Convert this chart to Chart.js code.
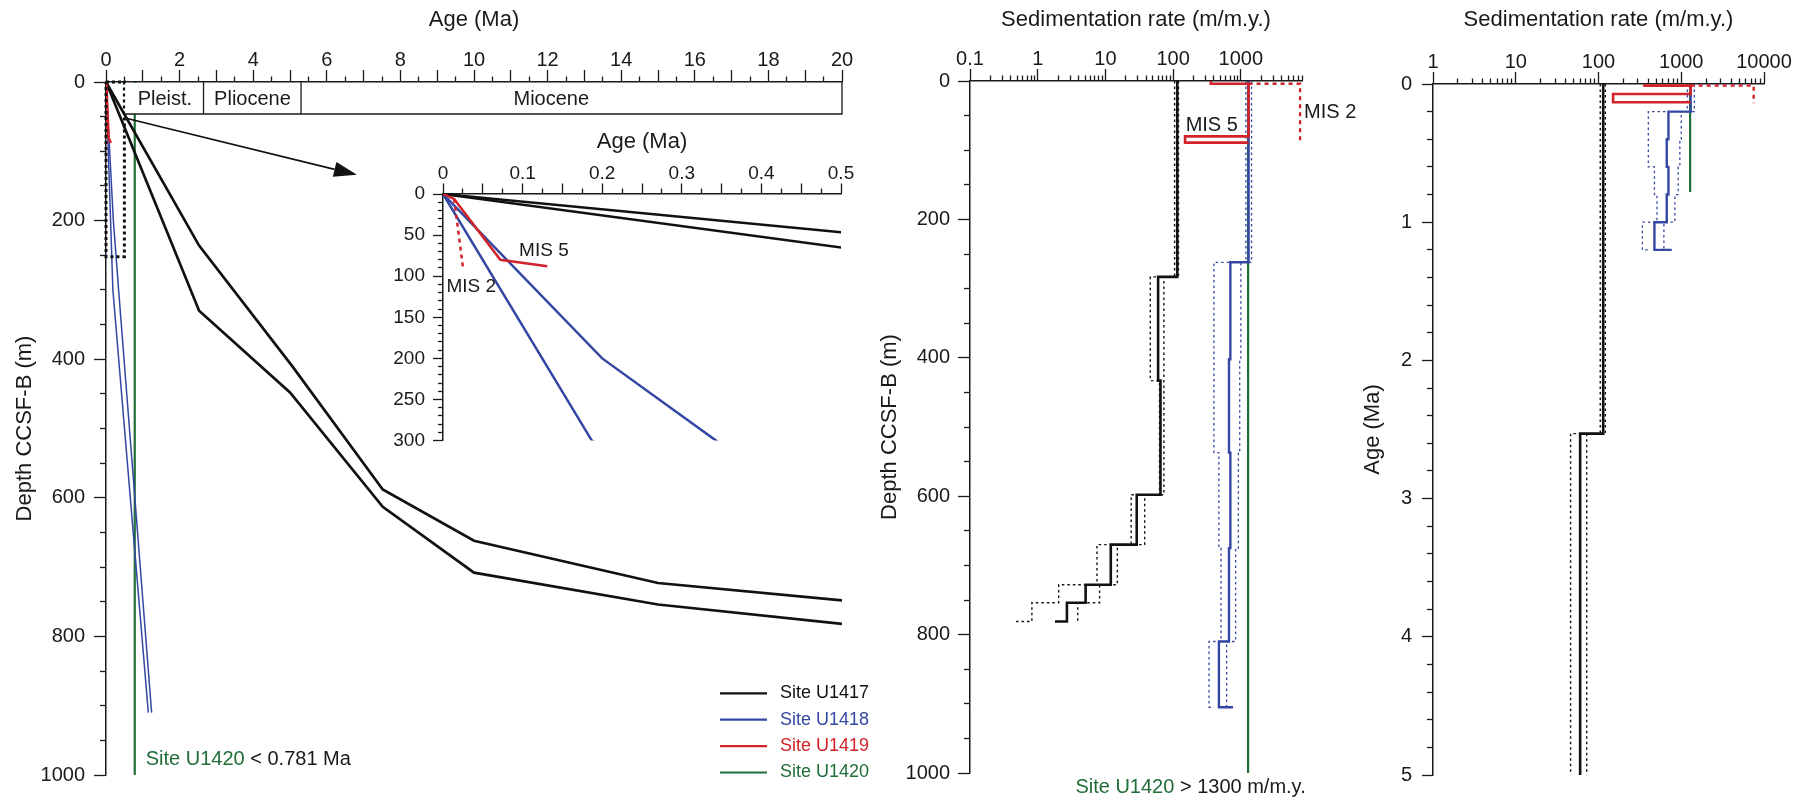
<!DOCTYPE html>
<html>
<head>
<meta charset="utf-8">
<script src="https://cdn.jsdelivr.net/npm/chart.js@4.4.1/dist/chart.umd.min.js"></script>
<style>
  html, body { margin: 0; padding: 0; background: #ffffff; width: 1814px; height: 810px; overflow: hidden; }
  canvas { position: absolute; pointer-events: none; }
</style>
</head>
<body>
<canvas id="cMain" width="880" height="810" style="left:0px;top:0px"></canvas>
<canvas id="cInset" width="480" height="340" style="left:380px;top:120px"></canvas>
<canvas id="cDepth" width="520" height="810" style="left:860px;top:0px"></canvas>
<canvas id="cAge" width="454" height="810" style="left:1360px;top:0px"></canvas>
<script>
// ================= DATA =================
const siteNames  = ['Site U1417', 'Site U1418', 'Site U1419', 'Site U1420'];
const siteColors = ['#111111', '#3448a3', '#d2232a', '#1f6e37'];

// --- Age (Ma) vs depth (m), left panel ---
const u1417AgeA   = [0, 2.53, 5.06, 7.52, 10, 15, 20];
const u1417DepthA = [0, 236, 410, 588, 662, 723, 748];
const u1417AgeB   = [0, 2.53, 5.0, 7.52, 10, 15, 20];
const u1417DepthB = [0, 330, 448, 613, 708, 754, 782];
const u1418AgeA   = [0, 0.187, 1.15];
const u1418DepthA = [0, 300, 910];
const u1418AgeB   = [0, 0.2, 0.343, 1.24];
const u1418DepthB = [0, 200, 300, 910];
const u1419Age    = [0, 0.014, 0.072, 0.131];
const u1419Depth  = [0, 6, 80, 88];
const u1419Mis2Age   = [0.014, 0.025];
const u1419Mis2Depth = [6, 89];
const u1420Age    = [0.781, 0.781];
const u1420Depth  = [0, 1000];

// epochs bar
const epochNames    = ['Pleist.', 'Pliocene', 'Miocene'];
const epochBounds   = [0.52, 2.65, 5.3, 20];
const epochLabelAge = [1.6, 3.98, 12.1];

// zoom box and arrow (data units of left panel)
const zoomBoxAge   = [0, 0.5];
const zoomBoxDepth = [0, 252];
const arrowAge     = [0.52, 6.82];
const arrowDepth   = [52, 134];

// tick labels
const mainAgeTickLabels    = [0, 2, 4, 6, 8, 10, 12, 14, 16, 18, 20];
const depthTickLabels      = [0, 200, 400, 600, 800, 1000];
const insetAgeTickLabels   = [0, 0.1, 0.2, 0.3, 0.4, 0.5];
const insetDepthTickLabels = [0, 50, 100, 150, 200, 250, 300];
const rateTickLabelsDepth  = [0.1, 1, 10, 100, 1000];
const rateTickLabelsAge    = [1, 10, 100, 1000, 10000];
const ageTickLabelsRate    = [0, 1, 2, 3, 4, 5];

// --- Sedimentation rate (m/m.y.) vs depth ---
const u1417RateTopDepth = [0, 283, 433, 598, 670, 728, 754, 781];
const u1417Rate     = [115, 60, 65, 29, 12, 5.1, 2.7, 1.8];
const u1417RateLow  = [105, 46, 63, 24, 7.5, 2.04, 0.82, 0.48];
const u1417RateHigh = [120, 73, 73, 38, 15, 8.2, 3.9, 3.9];
const u1418RateTopDepth = [0, 262, 402, 537, 675, 810, 905];
const u1418Rate     = [1300, 700, 668, 700, 668, 474, 767];
const u1418RateLow  = [1186, 400, 400, 474, 509, 339, 400];
const u1418RateHigh = [1439, 1000, 962, 918, 837, 617, 617];
const u1419RateTopDepth = [0, 4, 80, 89];
const u1419Rate     = [360, 1300, 150, 1300];
const mis2Rate      = [1300, 7500, 7500];
const mis2RateDepth = [4, 4, 89];
const u1420Rate      = [1280, 1280];
const u1420RateDepth = [0, 1000];

// --- Sedimentation rate vs age ---
const u1417RateTopAge     = [0, 2.53, 5.0];
const u1417RateByAge      = [114, 60, 60];
const u1417RateByAgeLow   = [105, 46, 46];
const u1417RateByAgeHigh  = [121, 72, 72];
const u1418RateTopAge     = [0, 0.2, 0.4, 0.6, 0.8, 1.0, 1.2];
const u1419RateTopAge     = [0, 0.012, 0.072, 0.132];
const mis2RateAge         = [0.012, 0.012, 0.14];
const u1420RateAge        = [0, 0.781];

// ================= STYLE HELPERS =================
const FONT = "'Liberation Sans', Arial, Helvetica, sans-serif";
const TXT = '#1a1a1a';
const AX = '#1a1a1a';
const [BLK, BLU, RED, GRN] = siteColors;

function pts(xs, ys) { return xs.map((x, i) => ({ x: x, y: ys[i] })); }
function ds(xs, ys, color, width, dash, stepped, extra) {
  return Object.assign({
    data: pts(xs, ys), borderColor: color, backgroundColor: color, borderWidth: width,
    borderDash: dash || [], showLine: true, pointRadius: 0, pointHoverRadius: 0,
    fill: false, tension: 0, stepped: stepped || false
  }, extra || {});
}
function linTicks(min, max, step) {
  const t = []; const n = Math.round((max - min) / step);
  for (let i = 0; i <= n; i++) t.push({ value: +(min + i * step).toFixed(6) });
  return t;
}
function logTicks(min, max) {
  const t = [];
  for (let e = Math.floor(Math.log10(min)); e <= Math.ceil(Math.log10(max)); e++) {
    const b = Math.pow(10, e);
    for (let m = 1; m < 10; m++) {
      const v = m * b;
      if (v >= min * (1 - 1e-9) && v <= max * (1 + 1e-9)) t.push({ value: v });
    }
  }
  return t;
}
function axis(o) {
  const isLog = o.type === 'logarithmic';
  const isMajor = isLog
    ? v => Math.abs(Math.log10(v) - Math.round(Math.log10(v))) < 1e-6
    : v => Math.abs(v / o.majorStep - Math.round(v / o.majorStep)) < 1e-6;
  const matchLabel = isLog
    ? v => o.labels.find(l => Math.abs(Math.log10(l) - Math.log10(v)) < 1e-6)
    : v => o.labels.find(l => Math.abs(l - v) < 1e-6);
  const horiz = o.pos === 'top' || o.pos === 'bottom';
  return {
    type: o.type || 'linear', position: o.pos, min: o.min, max: o.max, reverse: !!o.reverse,
    afterBuildTicks: s => { s.ticks = isLog ? logTicks(o.min, o.max) : linTicks(o.min, o.max, o.step); },
    afterFit: s => { if (horiz) s.height = o.size; else s.width = o.size; },
    ticks: {
      autoSkip: false, maxRotation: 0, minRotation: 0, padding: o.labelPad, color: TXT,
      font: { family: FONT, size: o.fontSize || 20 },
      callback: v => { const l = matchLabel(v); return l === undefined ? '' : String(l); }
    },
    grid: {
      drawOnChartArea: false, drawTicks: true, tickLength: o.majorLen, tickColor: AX, tickWidth: 1.3,
      tickBorderDash: ctx => (!ctx.tick || isMajor(ctx.tick.value)) ? [] : [o.minorLen, o.majorLen - o.minorLen],
      tickBorderDashOffset: ctx => (!ctx.tick || isMajor(ctx.tick.value)) ? 0 : o.minorLen
    },
    border: { display: true, color: AX, width: 1.5 },
    title: o.title ? { display: true, text: o.title, color: TXT, font: { family: FONT, size: 22 },
      padding: { top: o.titlePad, bottom: 0 } } : { display: false }
  };
}
function baseOptions(padding, scales) {
  return {
    responsive: false, devicePixelRatio: 1, animation: false, events: [],
    layout: { padding: padding },
    plugins: { legend: { display: false }, tooltip: { enabled: false } },
    scales: scales
  };
}
function P(chart, x, y) { return [chart.scales.x.getPixelForValue(x), chart.scales.y.getPixelForValue(y)]; }
function text(ctx, s, x, y, color, size, align) {
  ctx.save(); ctx.font = size + 'px ' + FONT; ctx.fillStyle = color;
  ctx.textAlign = align || 'left'; ctx.textBaseline = 'middle'; ctx.fillText(s, x, y); ctx.restore();
}

// ================= LEFT PANEL: age vs depth =================
const mainPlugin = {
  id: 'mainDecor',
  afterDatasetsDraw(chart) {
    const ctx = chart.ctx, ca = chart.chartArea, sx = chart.scales.x;
    const top = ca.top, h = 32;
    const x0 = sx.getPixelForValue(epochBounds[0]), x1 = sx.getPixelForValue(epochBounds[epochBounds.length - 1]);
    ctx.save();
    ctx.fillStyle = '#ffffff'; ctx.fillRect(x0, top + 1, x1 - x0, h - 1);
    ctx.strokeStyle = AX; ctx.lineWidth = 1.3;
    ctx.beginPath();
    ctx.moveTo(x0, top + h); ctx.lineTo(x1, top + h); ctx.lineTo(x1, top);
    for (let i = 1; i < epochBounds.length - 1; i++) {
      const xb = sx.getPixelForValue(epochBounds[i]); ctx.moveTo(xb, top); ctx.lineTo(xb, top + h);
    }
    ctx.stroke(); ctx.restore();
    epochNames.forEach((n, i) => text(ctx, n, sx.getPixelForValue(epochLabelAge[i]), top + h / 2 + 1, TXT, 20, 'center'));
    const [ax1, ay1] = P(chart, arrowAge[0], arrowDepth[0]);
    const [ax2, ay2] = P(chart, arrowAge[1], arrowDepth[1]);
    const a = Math.atan2(ay2 - ay1, ax2 - ax1), L = 23, W = 7.5, c = Math.cos(a), s = Math.sin(a);
    ctx.save(); ctx.strokeStyle = BLK; ctx.fillStyle = BLK; ctx.lineWidth = 1.6;
    ctx.beginPath(); ctx.moveTo(ax1, ay1); ctx.lineTo(ax2 - L * c, ay2 - L * s); ctx.stroke();
    ctx.beginPath(); ctx.moveTo(ax2, ay2);
    ctx.lineTo(ax2 - L * c + W * s, ay2 - L * s - W * c);
    ctx.lineTo(ax2 - L * c - W * s, ay2 - L * s + W * c);
    ctx.closePath(); ctx.fill(); ctx.restore();
  },
  afterDraw(chart) {
    const ctx = chart.ctx, ca = chart.chartArea;
    const [tx, ty] = P(chart, 1.08, 978);
    ctx.save(); ctx.font = '20px ' + FONT;
    const w = ctx.measureText('Site U1420').width; ctx.restore();
    text(ctx, 'Site U1420', tx, ty, GRN, 20);
    text(ctx, ' < 0.781 Ma', tx + w, ty, TXT, 20);
    siteNames.forEach((n, i) => {
      const y = ca.bottom - 81.7 + i * 26.4;
      ctx.save(); ctx.strokeStyle = siteColors[i]; ctx.lineWidth = 2.2;
      ctx.beginPath(); ctx.moveTo(ca.right - 122, y); ctx.lineTo(ca.right - 75, y); ctx.stroke(); ctx.restore();
      text(ctx, n, ca.right - 62, y, siteColors[i], 18);
    });
  }
};

new Chart(document.getElementById('cMain'), {
  type: 'scatter',
  data: { datasets: [
    ds([zoomBoxAge[0], zoomBoxAge[1], zoomBoxAge[1], zoomBoxAge[0], zoomBoxAge[0]],
       [zoomBoxDepth[0], zoomBoxDepth[0], zoomBoxDepth[1], zoomBoxDepth[1], zoomBoxDepth[0]],
       BLK, 3, [3, 3], false, { clip: false }),
    ds(u1419Age, u1419Depth, RED, 2.5),
    ds(u1419Mis2Age, u1419Mis2Depth, RED, 2.5, [4, 4]),
    ds(u1417AgeA, u1417DepthA, BLK, 2.7),
    ds(u1417AgeB, u1417DepthB, BLK, 2.7),
    ds(u1418AgeA, u1418DepthA, BLU, 1.5),
    ds(u1418AgeB, u1418DepthB, BLU, 1.5),
    ds(u1420Age, u1420Depth, GRN, 2.2)
  ] },
  options: baseOptions({ left: 0, top: 0, right: 38, bottom: 35 }, {
    x: axis({ pos: 'top', min: 0, max: 20, step: 0.5, majorStep: 1, labels: mainAgeTickLabels,
      majorLen: 12, minorLen: 5.5, labelPad: -2, size: 82, title: 'Age (Ma)', titlePad: 7 }),
    y: axis({ pos: 'left', min: 0, max: 1000, step: 50, majorStep: 200, labels: depthTickLabels, reverse: true,
      majorLen: 12, minorLen: 6, labelPad: 9, size: 106, title: 'Depth CCSF-B (m)', titlePad: 12 })
  }),
  plugins: [mainPlugin]
});

// ================= INSET =================
const insetPlugin = {
  id: 'insetDecor',
  afterDraw(chart) {
    const ctx = chart.ctx;
    const [m5x, m5y] = P(chart, 0.0956, 68.7);
    text(ctx, 'MIS 5', m5x, m5y, TXT, 19);
    const [m2x, m2y] = P(chart, 0.0043, 113);
    text(ctx, 'MIS 2', m2x, m2y, TXT, 19);
  }
};
new Chart(document.getElementById('cInset'), {
  type: 'scatter',
  data: { datasets: [
    ds(u1419Age, u1419Depth, RED, 2.5),
    ds(u1419Mis2Age, u1419Mis2Depth, RED, 2.5, [4, 4]),
    ds(u1417AgeA, u1417DepthA, BLK, 2.5),
    ds(u1417AgeB, u1417DepthB, BLK, 2.5),
    ds(u1418AgeA, u1418DepthA, BLU, 2.5),
    ds(u1418AgeB, u1418DepthB, BLU, 2.5)
  ] },
  options: baseOptions({ left: 0, top: 0, right: 19, bottom: 14 }, {
    x: axis({ pos: 'top', min: 0, max: 0.5, step: 0.025, majorStep: 0.05, labels: insetAgeTickLabels,
      majorLen: 10.5, minorLen: 5.5, labelPad: -2, size: 74, fontSize: 19, title: 'Age (Ma)', titlePad: 9 }),
    y: axis({ pos: 'left', min: 0, max: 300, step: 10, majorStep: 50, labels: insetDepthTickLabels, reverse: true,
      majorLen: 10, minorLen: 5, labelPad: 8, size: 63, fontSize: 19 })
  }),
  plugins: [insetPlugin]
});

// ================= MIDDLE: rate vs depth =================
const depthPlugin = {
  id: 'depthDecor',
  afterDraw(chart) {
    const ctx = chart.ctx;
    const [m5x, m5y] = P(chart, 153, 64.6);
    text(ctx, 'MIS 5', m5x, m5y, TXT, 20);
    const [m2x, m2y] = P(chart, mis2Rate[1], 46);
    text(ctx, 'MIS 2', m2x + 4, m2y, TXT, 20);
    const [bx, by] = P(chart, 3.6, 1021);
    ctx.save(); ctx.font = '20px ' + FONT;
    const w = ctx.measureText('Site U1420').width; ctx.restore();
    text(ctx, 'Site U1420', bx, by, GRN, 20);
    text(ctx, ' > 1300 m/m.y.', bx + w, by, TXT, 20);
  }
};
new Chart(document.getElementById('cDepth'), {
  type: 'scatter',
  data: { datasets: [
    ds(u1419Rate, u1419RateTopDepth, RED, 2.6, [], 'after'),
    ds(mis2Rate, mis2RateDepth, RED, 2.4, [4, 4]),
    ds(u1417Rate, u1417RateTopDepth, BLK, 2.6, [], 'after'),
    ds(u1417RateLow, u1417RateTopDepth, BLK, 1.4, [2.5, 3], 'after'),
    ds(u1417RateHigh, u1417RateTopDepth, BLK, 1.4, [2.5, 3], 'after'),
    ds(u1418Rate, u1418RateTopDepth, BLU, 2.4, [], 'after'),
    ds(u1418RateLow, u1418RateTopDepth, BLU, 1.3, [2.5, 3], 'after'),
    ds(u1418RateHigh, u1418RateTopDepth, BLU, 1.3, [2.5, 3], 'after'),
    ds(u1420Rate, u1420RateDepth, GRN, 2.2)
  ] },
  options: baseOptions({ left: 0, top: 0, right: 78, bottom: 37 }, {
    x: axis({ type: 'logarithmic', pos: 'top', min: 0.1, max: 8000, labels: rateTickLabelsDepth,
      majorLen: 12, minorLen: 5.5, labelPad: -2, size: 81, title: 'Sedimentation rate (m/m.y.)', titlePad: 7 }),
    y: axis({ pos: 'left', min: 0, max: 1000, step: 50, majorStep: 200, labels: depthTickLabels, reverse: true,
      majorLen: 12, minorLen: 6, labelPad: 8, size: 110, title: 'Depth CCSF-B (m)', titlePad: 17 })
  }),
  plugins: [depthPlugin]
});

// ================= RIGHT: rate vs age =================
new Chart(document.getElementById('cAge'), {
  type: 'scatter',
  data: { datasets: [
    ds(u1419Rate, u1419RateTopAge, RED, 2.6, [], 'after'),
    ds(mis2Rate, mis2RateAge, RED, 2.4, [4, 4]),
    ds(u1417RateByAge, u1417RateTopAge, BLK, 2.6, [], 'after'),
    ds(u1417RateByAgeLow, u1417RateTopAge, BLK, 1.4, [2.5, 3], 'after'),
    ds(u1417RateByAgeHigh, u1417RateTopAge, BLK, 1.4, [2.5, 3], 'after'),
    ds(u1418Rate, u1418RateTopAge, BLU, 2.4, [], 'after'),
    ds(u1418RateLow, u1418RateTopAge, BLU, 1.3, [2.5, 3], 'after'),
    ds(u1418RateHigh, u1418RateTopAge, BLU, 1.3, [2.5, 3], 'after'),
    ds(u1420Rate, u1420RateAge, GRN, 2.2)
  ] },
  options: baseOptions({ left: 0, top: 0, right: 50, bottom: 35 }, {
    x: axis({ type: 'logarithmic', pos: 'top', min: 1, max: 10000, labels: rateTickLabelsAge,
      majorLen: 12, minorLen: 5.5, labelPad: -2, size: 84, title: 'Sedimentation rate (m/m.y.)', titlePad: 7 }),
    y: axis({ pos: 'left', min: 0, max: 5, step: 0.2, majorStep: 1, labels: ageTickLabelsRate, reverse: true,
      majorLen: 11, minorLen: 6, labelPad: 10, size: 73, title: 'Age (Ma)', titlePad: 0 })
  })
});
</script>
</body>
</html>
